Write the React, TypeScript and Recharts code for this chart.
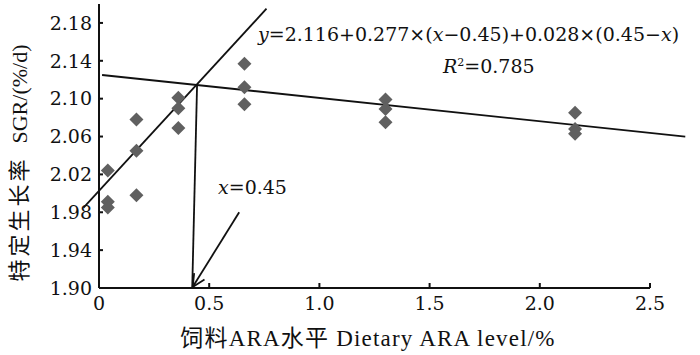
import React from 'react';
import { ComposedChart, Scatter, XAxis, YAxis, ReferenceLine, Label } from 'recharts';

// dietary ARA level (%) and SGR (%/d), three replicates per level
const araLevel = [0.04, 0.04, 0.04, 0.17, 0.17, 0.17, 0.36, 0.36, 0.36, 0.66, 0.66, 0.66, 1.3, 1.3, 1.3, 2.16, 2.16, 2.16];
const sgr = [2.024, 1.991, 1.985, 2.078, 2.045, 1.998, 2.101, 2.09, 2.069, 2.137, 2.112, 2.094, 2.099, 2.089, 2.075, 2.085, 2.068, 2.063];

const xTicks = [0, 0.5, 1.0, 1.5, 2.0, 2.5];
const yTicks = [1.9, 1.94, 1.98, 2.02, 2.06, 2.1, 2.14, 2.18];

// broken-line fit segments
const riseLine = [{ x: -0.07, y: 1.985 }, { x: 0.76, y: 2.195 }];
const plateauLine = [{ x: 0.014, y: 2.125 }, { x: 2.66, y: 2.06 }];
const dropLine = [{ x: 0.445, y: 2.115 }, { x: 0.423, y: 1.9 }];
const arrowLine = [{ x: 0.636, y: 1.98 }, { x: 0.425, y: 1.901 }];

const points = araLevel.map((x, i) => ({ x, y: sgr[i] }));

const serif = '"DejaVu Serif", serif';
const labelFont = '"Liberation Serif", "Noto Sans CJK SC", serif';

const Diamond = (props: any) => {
  const { cx, cy } = props;
  const r = 7;
  return <polygon points={`${cx},${cy - r} ${cx + r},${cy} ${cx},${cy + r} ${cx - r},${cy}`} fill="#606060" />;
};

const Arrow = (props: any) => {
  const { x1, y1, x2, y2 } = props;
  const a = Math.atan2(y2 - y1, x2 - x1);
  const len = 14;
  const sp = 0.45;
  const p1 = [x2 - len * Math.cos(a - sp), y2 - len * Math.sin(a - sp)];
  const p2 = [x2 - len * Math.cos(a + sp), y2 - len * Math.sin(a + sp)];
  return (
    <g stroke="#111" strokeWidth={1.8} fill="none">
      <line x1={x1} y1={y1} x2={x2} y2={y2} />
      <polyline points={`${p1[0]},${p1[1]} ${x2},${y2} ${p2[0]},${p2[1]}`} />
    </g>
  );
};

const YTitle = () => (
  <text
    transform="translate(27,163) rotate(-90)"
    textAnchor="middle"
    style={{ fill: '#111', fontSize: 22, fontFamily: labelFont }}
  >
    <tspan style={{ letterSpacing: 3 }}>特定生长率</tspan>
    <tspan dx={13}>SGR/(%/d)</tspan>
  </text>
);

const XTitle = () => (
  <text x={368} y={346} textAnchor="middle" style={{ fill: '#111', fontSize: 23, fontFamily: labelFont, letterSpacing: 1.2 }}>
    饲料ARA水平 Dietary ARA level/%
  </text>
);

const tickStyle = { fill: '#111', fontSize: 19, fontFamily: serif, style: { fontFamily: serif } };

export default function App() {
  return (
    <div style={{ position: 'absolute', left: 0, top: 0, width: 700, height: 355, background: '#fff' }}>
      <ComposedChart width={700} height={355} margin={{ top: 4, right: 50, bottom: 0, left: 0 }} style={{ fontFamily: serif }}>
        <XAxis
          type="number"
          dataKey="x"
          domain={[0, 2.5]}
          ticks={xTicks}
          tickFormatter={(v: number) => (v === 0 ? '0' : v.toFixed(1))}
          height={67}
          stroke="#111"
          strokeWidth={2}
          tickSize={-5}
          tickMargin={14}
          tick={tickStyle}
        >
          <Label content={XTitle} />
        </XAxis>
        <YAxis
          type="number"
          dataKey="y"
          domain={[1.9, 2.2]}
          ticks={yTicks}
          tickFormatter={(v: number) => v.toFixed(2)}
          width={99}
          stroke="#111"
          strokeWidth={2}
          tickSize={-4}
          tickMargin={11}
          tick={tickStyle}
        >
          <Label content={YTitle} />
        </YAxis>
        <ReferenceLine segment={riseLine} stroke="#111" strokeWidth={1.8} ifOverflow="visible" />
        <ReferenceLine segment={plateauLine} stroke="#111" strokeWidth={1.8} ifOverflow="visible" />
        <ReferenceLine segment={dropLine} stroke="#111" strokeWidth={1.8} ifOverflow="visible" />
        <ReferenceLine segment={arrowLine} ifOverflow="visible" shape={Arrow} />
        <Scatter data={points} shape={Diamond} isAnimationActive={false} />
      </ComposedChart>
      <div style={{ position: 'absolute', left: 258, top: 23, fontFamily: serif, fontSize: 19, color: '#111', whiteSpace: 'nowrap' }}>
        <i>y</i>=2.116+0.277×(<i>x</i>−0.45)+0.028×(0.45−<i>x</i>)
      </div>
      <div style={{ position: 'absolute', left: 443, top: 55, fontFamily: serif, fontSize: 19, color: '#111', whiteSpace: 'nowrap' }}>
        <i>R</i><sup style={{ fontSize: 11 }}>2</sup>=0.785
      </div>
      <div style={{ position: 'absolute', left: 218, top: 176, fontFamily: serif, fontSize: 19, color: '#111', whiteSpace: 'nowrap' }}>
        <i>x</i>=0.45
      </div>
    </div>
  );
}
